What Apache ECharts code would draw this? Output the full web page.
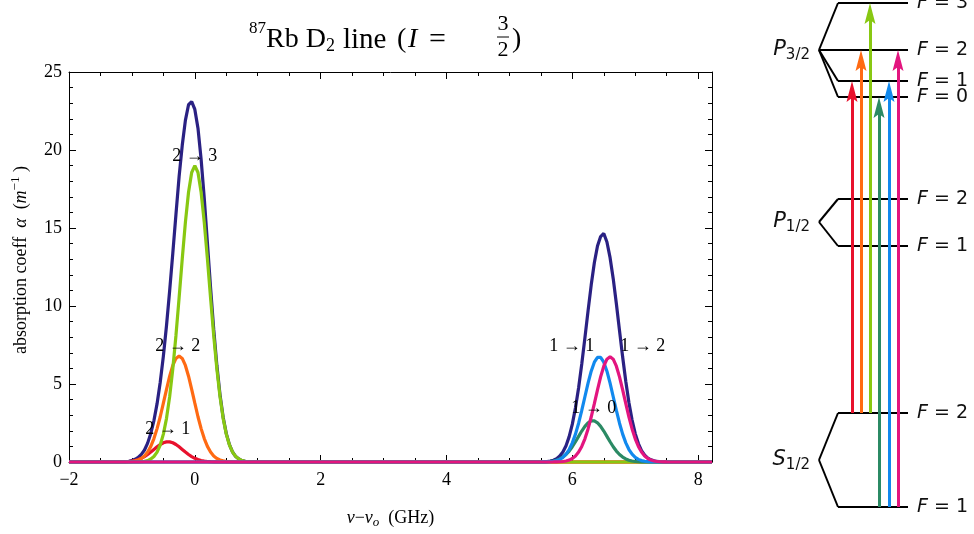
<!DOCTYPE html>
<html><head><meta charset="utf-8">
<script src="https://cdn.jsdelivr.net/npm/echarts@6/dist/echarts.min.js"></script>
<style>html,body{margin:0;padding:0;background:#fff}#c{width:974px;height:534px}</style>
</head><body><div id="c"></div><script>
// ---------------- data ----------------
const xRange = [-2, 8.22];
const yRange = [0, 25];
const xTicks = [-2, 0, 2, 4, 6, 8];
const yTicks = [0, 5, 10, 15, 20, 25];

const xLeft = [-1.10,-1.05,-1.00,-0.95,-0.90,-0.85,-0.80,-0.75,-0.70,-0.65,-0.60,-0.55,-0.50,-0.45,-0.40,-0.35,-0.30,-0.25,-0.20,-0.15,-0.10,-0.05,0.00,0.05,0.10,0.15,0.20,0.25,0.30,0.35,0.40,0.45,0.50,0.55,0.60,0.65,0.70,0.75,0.80,0.85,0.90];
const totalLeft = [0.03,0.05,0.09,0.17,0.29,0.49,0.77,1.21,1.83,2.66,3.74,5.11,6.79,8.75,10.98,13.39,15.87,18.29,20.3,21.9,22.9,23.1,22.6,21.4,19.4,16.9,14.05,11.18,8.51,6.20,4.32,2.87,1.82,1.11,0.64,0.35,0.19,0.09,0.04,0.02,0.01];
const t21 = [0.018,0.032,0.057,0.096,0.154,0.236,0.344,0.479,0.636,0.806,0.973,1.122,1.233,1.292,1.292,1.233,1.122,0.973,0.806,0.636,0.479,0.344,0.236,0.154,0.096,0.057,0.032,0.018,0.009,0.004,0.002,0,0,0,0,0,0,0,0,0,0];
const t22 = [0.01,0.02,0.03,0.07,0.13,0.23,0.39,0.64,1.00,1.50,2.14,2.90,3.77,4.66,5.50,6.19,6.64,6.80,6.64,6.19,5.50,4.66,3.77,2.90,2.14,1.50,1.00,0.64,0.39,0.23,0.13,0.07,0.03,0.02,0.01,0,0,0,0,0,0];
const t23 = [0,0,0,0,0.01,0.02,0.04,0.09,0.19,0.35,0.63,1.09,1.79,2.80,4.19,5.97,8.11,10.52,13.02,15.36,17.29,18.56,19.00,18.56,17.29,15.36,13.02,10.52,8.11,5.97,4.19,2.80,1.79,1.09,0.63,0.35,0.19,0.09,0.04,0.02,0.01];

const xRight = [5.50,5.55,5.60,5.65,5.70,5.75,5.80,5.85,5.90,5.95,6.00,6.05,6.10,6.15,6.20,6.25,6.30,6.35,6.40,6.45,6.50,6.55,6.60,6.65,6.70,6.75,6.80,6.85,6.90,6.95,7.00,7.05,7.10,7.15,7.20,7.25,7.30,7.35,7.40,7.45,7.50];
const totalRight = [0.006,0.014,0.030,0.060,0.116,0.214,0.380,0.643,1.046,1.625,2.426,3.471,4.764,6.283,7.957,9.688,11.340,12.773,13.848,14.453,14.65,14.1,13.1,11.752,10.145,8.425,6.726,5.159,3.799,2.686,1.820,1.182,0.735,0.438,0.250,0.135,0.071,0.035,0.016,0.007,0.003];
const t10 = [0.004,0.009,0.018,0.036,0.066,0.116,0.196,0.314,0.481,0.701,0.977,1.297,1.642,1.984,2.286,2.513,2.634,2.634,2.513,2.286,1.984,1.642,1.297,0.977,0.701,0.481,0.314,0.196,0.116,0.066,0.036,0.018,0.009,0.004,0.002,0,0,0,0,0,0];
const t11 = [0.002,0.005,0.011,0.023,0.047,0.091,0.168,0.296,0.499,0.800,1.224,1.787,2.487,3.303,4.183,5.054,5.823,6.400,6.710,6.710,6.400,5.823,5.054,4.183,3.303,2.487,1.787,1.224,0.800,0.499,0.296,0.168,0.091,0.047,0.023,0.011,0.005,0.002,0,0,0];
const t12 = [0,0,0.001,0.001,0.003,0.007,0.016,0.033,0.066,0.124,0.225,0.387,0.635,0.996,1.488,2.121,2.883,3.739,4.625,5.457,6.141,6.592,6.750,6.592,6.141,5.457,4.625,3.739,2.883,2.121,1.488,0.996,0.635,0.387,0.225,0.124,0.066,0.033,0.016,0.007,0.003];

const peakNames = ['2 → 3', '2 → 2', '2 → 1', '1 → 1', '1 → 2', '1 → 0'];
const peakNameX = [0.0, -0.27, -0.43, 5.99, 7.12, 6.34];
const peakNameY = [19.6, 7.4, 2.1, 7.4, 7.4, 3.45];

// energy-level diagram (diagram units)
const termNames = ['P', 'P', 'S'];
const termSubs = ['3/2', '1/2', '1/2'];
const termY = [50, 222, 460];
const levelNames = ['F = 3', 'F = 2', 'F = 1', 'F = 0', 'F = 2', 'F = 1', 'F = 2', 'F = 1'];
const levelY = [3, 50, 81, 97, 199, 246, 413, 507];
const levelTerm = [0, 0, 0, 0, 1, 1, 2, 2];
const arrowX = [112, 121, 130, 139, 149, 158];
const arrowFrom = [6, 6, 6, 7, 7, 7];   // index into levelY
const arrowTo = [2, 1, 0, 3, 2, 1];

// ---------------- styles ----------------
const C = {
  navy: '#2a2183', red: '#e8112d', orange: '#ff6a13', lime: '#88c812',
  dgreen: '#2b8a64', blue: '#1189ee', magenta: '#e3157f'
};
const serif = '"Liberation Serif", "Times New Roman", serif';
const sans = '"DejaVu Sans", Verdana, sans-serif';

function pairs(xs, ys) {
  return [[xRange[0], 0]].concat(xs.map((x, i) => [x, ys[i]]), [[xRange[1], 0]]);
}
const totalData = [[xRange[0], 0]].concat(
  xLeft.map((x, i) => [x, totalLeft[i]]),
  xRight.map((x, i) => [x, totalRight[i]]),
  [[xRange[1], 0]]);

function curve(name, data, color) {
  return {
    name, type: 'line', xAxisIndex: 0, yAxisIndex: 0, data, showSymbol: false, symbol: 'none',
    clip: false, smooth: false, lineStyle: { color, width: 3.2 }, silent: true, animation: false
  };
}

function fmtX(v) {
  if (!xTicks.some(t => Math.abs(t - v) < 1e-6)) return '';
  return v < 0 ? '\u2212' + Math.abs(v) : String(v);
}
function fmtY(v) {
  if (!yTicks.some(t => Math.abs(t - v) < 1e-6)) return '';
  return String(v);
}

const baseAxis = {
  type: 'value', splitLine: { show: false },
  axisLine: { show: true, onZero: false, lineStyle: { color: '#000', width: 1 } }
};
function xA(position, interval, len, extra) {
  return Object.assign({}, baseAxis, {
    gridIndex: 0, position, min: xRange[0], max: xRange[1], interval,
    axisTick: { show: true, inside: true, length: len, lineStyle: { color: '#000', width: 1 } },
    axisLabel: { show: false }
  }, extra || {});
}
function yA(position, interval, len, extra) {
  return Object.assign({}, baseAxis, {
    gridIndex: 0, position, min: yRange[0], max: yRange[1], interval,
    axisTick: { show: true, inside: true, length: len, lineStyle: { color: '#000', width: 1 } },
    axisLabel: { show: false }
  }, extra || {});
}

const option = {
  backgroundColor: '#fff',
  animation: false,
  grid: [
    { left: 69, right: 262, top: 72, bottom: 68 },
    { left: 740, top: 0, width: 234, height: 534 }
  ],
  xAxis: [
    xA('bottom', 2, 7, {
      axisLabel: { show: true, formatter: fmtX, fontFamily: serif, fontSize: 18, color: '#000', margin: 9 },
      name: '{i|ν}{n|−}{i|ν}{s|o}{n|  (GHz)}', nameLocation: 'middle', nameGap: 45,
      nameTextStyle: {
        fontFamily: serif, fontSize: 18, color: '#000',
        rich: {
          n: { fontFamily: serif, fontSize: 18, color: '#000' },
          i: { fontFamily: serif, fontSize: 18, fontStyle: 'italic', color: '#000' },
          s: { fontFamily: serif, fontSize: 13, fontStyle: 'italic', color: '#000', padding: [9, 0, 0, 0] }
        }
      }
    }),
    xA('bottom', 0.5, 4, { axisLine: { show: false, onZero: false } }),
    xA('top', 2, 7),
    xA('top', 0.5, 4, { axisLine: { show: false, onZero: false } }),
    { type: 'value', gridIndex: 1, min: 0, max: 234, show: false }
  ],
  yAxis: [
    yA('left', 5, 7, {
      axisLabel: { show: true, formatter: fmtY, fontFamily: serif, fontSize: 18, color: '#000', margin: 7 },
      name: '{n|absorption coeff  }{i|α}{n|  (}{i|m}{p|−1}{n| )}', nameLocation: 'middle', nameGap: 36, nameRotate: 90,
      nameTextStyle: {
        fontFamily: serif, fontSize: 18, color: '#000', padding: [0, 0, 0, 14],
        rich: {
          n: { fontFamily: serif, fontSize: 18, color: '#000' },
          i: { fontFamily: serif, fontSize: 18, fontStyle: 'italic', color: '#000' },
          p: { fontFamily: serif, fontSize: 13, color: '#000', padding: [0, 0, 11, 0] }
        }
      }
    }),
    yA('left', 1, 4, { axisLine: { show: false, onZero: false } }),
    yA('right', 5, 7),
    yA('right', 1, 4, { axisLine: { show: false, onZero: false } }),
    { type: 'value', gridIndex: 1, min: 0, max: 534, inverse: true, show: false }
  ],
  graphic: [
    {
      type: 'text', x: 249, y: 40, silent: true,
      style: {
        text: '{sup|87}{n|Rb D}{sub|2}', align: 'left', verticalAlign: 'middle',
        rich: {
          n: { fontFamily: serif, fontSize: 28, fill: '#000' },
          sup: { fontFamily: serif, fontSize: 17, fill: '#000', padding: [0, 0, 22, 0] },
          sub: { fontFamily: serif, fontSize: 18, fill: '#000', padding: [12, 0, 0, 0] }
        }
      }
    },
    { type: 'text', x: 343, y: 40, silent: true, style: { text: 'line', fontFamily: serif, fontSize: 29, fill: '#000', align: 'left', verticalAlign: 'middle' } },
    { type: 'text', x: 397, y: 40, silent: true, style: { text: '(', fontFamily: serif, fontSize: 28, fill: '#000', align: 'left', verticalAlign: 'middle' } },
    { type: 'text', x: 408, y: 40, silent: true, style: { text: 'I', fontFamily: serif, fontSize: 28, fontStyle: 'italic', fill: '#000', align: 'left', verticalAlign: 'middle' } },
    { type: 'text', x: 429, y: 40, silent: true, style: { text: '=', fontFamily: serif, fontSize: 30, fill: '#000', align: 'left', verticalAlign: 'middle' } },
    { type: 'text', x: 503, y: 24, silent: true, style: { text: '3', fontFamily: serif, fontSize: 22, fill: '#000', align: 'center', verticalAlign: 'middle' } },
    { type: 'line', silent: true, shape: { x1: 497, y1: 37, x2: 509, y2: 37 }, style: { stroke: '#000', lineWidth: 1 } },
    { type: 'text', x: 503, y: 50, silent: true, style: { text: '2', fontFamily: serif, fontSize: 22, fill: '#000', align: 'center', verticalAlign: 'middle' } },
    { type: 'text', x: 512, y: 40, silent: true, style: { text: ')', fontFamily: serif, fontSize: 28, fill: '#000', align: 'left', verticalAlign: 'middle' } }
  ],
  series: []
};

option.series.push(
  curve('total', totalData, C.navy),
  curve('2→1', pairs(xLeft, t21), C.red),
  curve('2→2', pairs(xLeft, t22), C.orange),
  curve('2→3', pairs(xLeft, t23), C.lime),
  curve('1→0', pairs(xRight, t10), C.dgreen),
  curve('1→1', pairs(xRight, t11), C.blue),
  curve('1→2', pairs(xRight, t12), C.magenta)
);

// transition labels on the plot
option.series.push({
  type: 'scatter', xAxisIndex: 0, yAxisIndex: 0, symbolSize: 0, silent: true, z: 20,
  itemStyle: { opacity: 1 },
  data: peakNames.map((t, i) => ({ value: [peakNameX[i], peakNameY[i]], label: { formatter: t } })),
  label: { show: true, position: 'inside', fontFamily: serif, fontSize: 18, color: '#000' }
});

// ---- energy level diagram (grid 1, axes index 4) ----
const DX = 4, DY = 4;
const vertexX = 79, levelStartX = 98, levelEndX = 168, labelX = 177, termLabelX = 70;
const segs = [];
levelY.forEach((y, i) => {
  const ty = termY[levelTerm[i]];
  if (Math.abs(ty - y) < 1e-6) {
    segs.push([[vertexX, y], [levelEndX, y]]);
  } else {
    segs.push([[levelStartX, y], [levelEndX, y]]);
    segs.push([[vertexX, ty], [levelStartX, y]]);
  }
});
option.series.push({
  type: 'lines', coordinateSystem: 'cartesian2d', xAxisIndex: DX, yAxisIndex: DY,
  symbol: ['none', 'none'], silent: true, z: 2,
  lineStyle: { color: '#000', width: 2, opacity: 1 },
  data: segs.map(s => ({ coords: s }))
});
const arrowColors = [C.red, C.orange, C.lime, C.dgreen, C.blue, C.magenta];
const headLen = 21, headW = 11;
option.series.push({
  type: 'lines', coordinateSystem: 'cartesian2d', xAxisIndex: DX, yAxisIndex: DY,
  symbol: ['none', 'none'], silent: true, z: 3,
  data: arrowX.map((x, i) => ({
    coords: [[x, levelY[arrowFrom[i]]], [x, levelY[arrowTo[i]] + headLen - 4]],
    lineStyle: { color: arrowColors[i], width: 3, opacity: 1 }
  }))
});
option.series.push({
  type: 'scatter', xAxisIndex: DX, yAxisIndex: DY, silent: true, z: 4,
  symbol: 'path://M5.5,0 L11,21 L5.5,17 L0,21 Z', symbolSize: [headW, headLen],
  itemStyle: { opacity: 1 },
  data: arrowX.map((x, i) => ({ value: [x, levelY[arrowTo[i]] + headLen / 2], itemStyle: { color: arrowColors[i], opacity: 1 } }))
});
const diagRich = {
  i: { fontFamily: sans, fontSize: 19, fontStyle: 'italic', color: '#111' },
  n: { fontFamily: sans, fontSize: 19, color: '#111' },
  P: { fontFamily: sans, fontSize: 21, fontStyle: 'italic', color: '#111' },
  s: { fontFamily: sans, fontSize: 15, color: '#111', padding: [11, 0, 0, 0] }
};
option.series.push({
  type: 'scatter', xAxisIndex: DX, yAxisIndex: DY, silent: true, z: 5, symbolSize: 0,
  itemStyle: { opacity: 1 },
  data: levelNames.map((t, i) => ({
    value: [labelX, levelY[i]],
    label: { formatter: '{i|F}{n|' + t.slice(1) + '}' }
  })).concat(termNames.map((t, i) => ({
    value: [termLabelX, termY[i]],
    label: { formatter: '{P|' + t + '}{s|' + termSubs[i] + '}', align: 'right' }
  }))),
  label: { show: true, position: 'inside', align: 'left', verticalAlign: 'middle', rich: diagRich }
});

const chart = echarts.init(document.getElementById('c'), null, { renderer: 'canvas' });
chart.setOption(option);
</script></body></html>
